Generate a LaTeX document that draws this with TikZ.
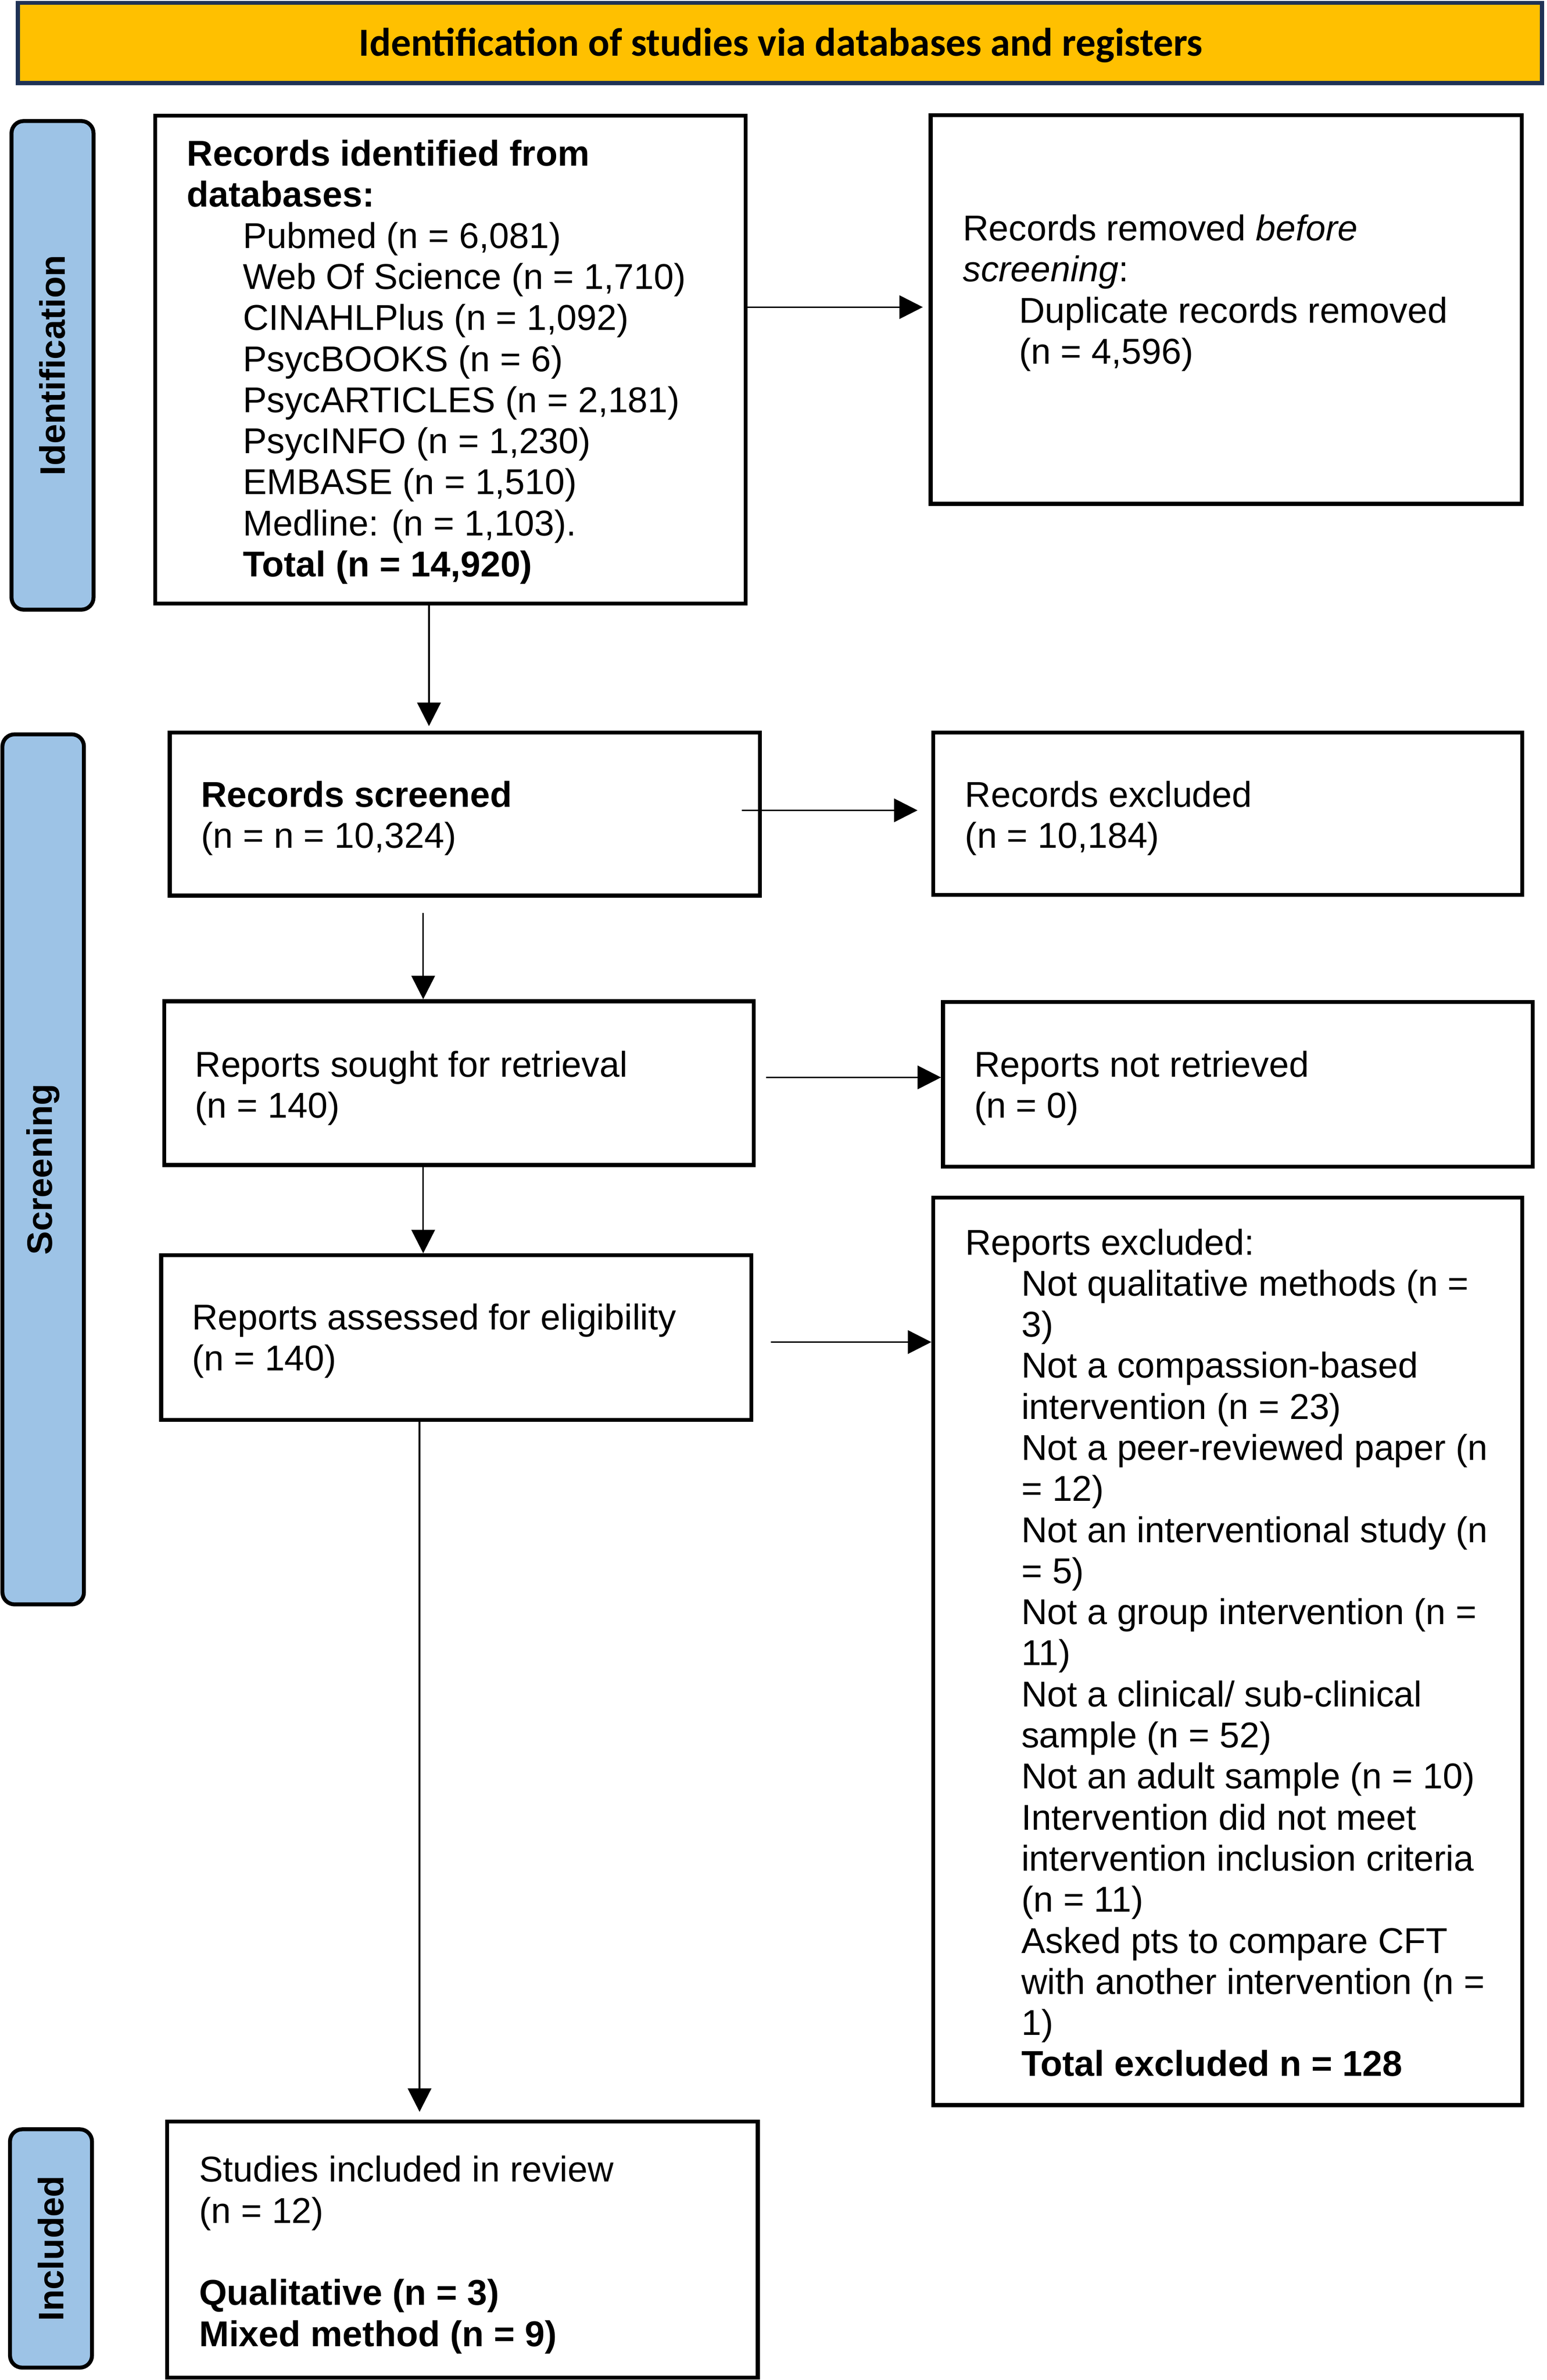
\documentclass[tikz,border=0pt]{standalone}
\usepackage{fontspec}
\setmainfont{Liberation Sans}
\newfontfamily\hdrfont{Carlito}
\usetikzlibrary{arrows.meta,calc}
\definecolor{hdryellow}{RGB}{255,192,0}
\definecolor{hdrnavy}{RGB}{31,50,85}
\definecolor{sideblue}{RGB}{157,195,230}
\newcommand{\tind}{\hspace*{26.25pt}}
\begin{document}
\begin{tikzpicture}[x=0.025cm,y=-0.025cm,
  box/.style={draw=black,line width=1.85pt,rectangle,inner sep=0pt,outer sep=0pt},
  side/.style={box,fill=sideblue,rounded corners=0.2cm},
  sidetext/.style={rotate=90,font=\fontsize{16.6}{19.25}\selectfont\bfseries,inner sep=0pt},
  txt/.style={anchor=north west,align=left,inner sep=0pt,outer sep=0pt,font=\fontsize{16.8}{19.25}\selectfont},
  arr/.style={line width=0.75pt,-{Triangle[length=11pt,width=11pt]}}]
\useasboundingbox (0,0) rectangle (1019,1568.4);

% header
\node[draw=hdrnavy,fill=hdryellow,line width=1.92pt,inner sep=0pt,outer sep=0pt,
      minimum width=25.0925cm,minimum height=1.32cm] (hdr) at (513.8,28.25) {};
\node[anchor=base,inner sep=0pt,font=\hdrfont\fontsize{18.65}{22}\selectfont\bfseries] (ht)
  at ($(hdr.center)+(0.6,8.75)$) {Identification of studies via databases and registers};

% side labels
\node[side,minimum width=1.35cm,minimum height=8.0475cm] (l1) at (34.6,240.75) {};
\node[sidetext] (l1t) at (l1.center) {Identification};
\node[side,minimum width=1.3425cm,minimum height=14.33cm] (l2) at (28.45,770.6) {};
\node[sidetext] (l2t) at (l2.center) {Screening};
\node[side,minimum width=1.35cm,minimum height=3.925cm] (l3) at (33.6,1481.7) {};
\node[sidetext] (l3t) at (l3.center) {Included};

% boxes
\node[box,minimum width=9.72cm,minimum height=8.035cm] (b1) at (296.7,237) {};
\node[box,minimum width=9.7325cm,minimum height=6.4cm] (b2) at (807.75,204) {};
\node[box,minimum width=9.7175cm,minimum height=2.6875cm] (b3) at (306.25,536.45) {};
\node[box,minimum width=9.6975cm,minimum height=2.6725cm] (b4) at (808.75,536.25) {};
\node[box,minimum width=9.7075cm,minimum height=2.6975cm] (b5) at (302.35,713.75) {};
\node[box,minimum width=9.71cm,minimum height=2.71cm] (b6) at (815.5,714.5) {};
\node[box,minimum width=9.7175cm,minimum height=2.7125cm] (b7) at (300.55,881.45) {};
\node[box,minimum width=9.695cm,minimum height=14.9475cm] (b8) at (808.8,1088.25) {};
\node[box,minimum width=9.725cm,minimum height=4.2175cm] (b9) at (304.7,1482.35) {};

% texts
\node[txt] (t1) at (123.2,90.4) {\strut\textbf{Records identified from}\\
\textbf{databases:}\\
\tind Pubmed (n = 6,081)\\
\tind Web Of Science (n = 1,710)\\
\tind CINAHLPlus (n = 1,092)\\
\tind PsycBOOKS (n = 6)\\
\tind PsycARTICLES (n = 2,181)\\
\tind PsycINFO (n = 1,230)\\
\tind EMBASE (n = 1,510)\\
\tind Medline: (n = 1,103).\\
\tind \textbf{Total (n = 14,920)}};

\node[txt] (t2) at (634.4,139.6) {\strut Records removed \textit{before}\\
\textit{screening}:\\
\tind Duplicate records removed\\
\tind (n = 4,596)};

\node[txt] (t3) at (132.5,512.9) {\strut\textbf{Records screened}\\(n = n = 10,324)};
\node[txt] (t4) at (635.8,512.9) {\strut Records excluded\\(n = 10,184)};
\node[txt] (t5) at (128.5,690.6) {\strut Reports sought for retrieval\\(n = 140)};
\node[txt] (t6) at (641.8,690.6) {\strut Reports not retrieved\\(n = 0)};
\node[txt] (t7) at (126.5,857.3) {\strut Reports assessed for eligibility\\(n = 140)};

\node[txt] (t8) at (636,807.9) {\strut Reports excluded:\\
\tind Not qualitative methods (n =\\
\tind 3)\\
\tind Not a compassion-based\\
\tind intervention (n = 23)\\
\tind Not a peer-reviewed paper (n\\
\tind = 12)\\
\tind Not an interventional study (n\\
\tind = 5)\\
\tind Not a group intervention (n =\\
\tind 11)\\
\tind Not a clinical/ sub-clinical\\
\tind sample (n = 52)\\
\tind Not an adult sample (n = 10)\\
\tind Intervention did not meet\\
\tind intervention inclusion criteria\\
\tind (n = 11)\\
\tind Asked pts to compare CFT\\
\tind with another intervention (n =\\
\tind 1)\\
\tind \textbf{Total excluded n = 128}};

\node[txt] (t9) at (131.2,1418.9) {\strut Studies included in review\\
(n = 12)\\[19.25pt]
\textbf{Qualitative (n = 3)}\\
\textbf{Mixed method (n = 9)}};

% connector guides
\coordinate (a1) at (0,202.4);
\coordinate (r2) at (0,534);
\coordinate (r3) at (0,710);
\coordinate (r4) at (0,884.4);
\coordinate (c1) at (282.6,0);
\coordinate (c2) at (278.8,0);
\coordinate (c3) at (276.4,0);

% arrows
\draw[arr] (b1.east |- a1) -- ($(b2.west |- a1)+(-5.1,0)$);
\draw[arr] (b1.south -| c1) -- ($(b3.north -| c1)+(0,-4.2)$);
\draw[arr] ($(b3.east |- r2)+(-12,0)$) -- ($(b4.west |- r2)+(-10.3,0)$);
\draw[arr] ($(b3.south -| c2)+(0,11.4)$) -- ($(b5.north -| c2)+(0,-1.3)$);
\draw[arr] ($(b5.east |- r3)+(8,0)$) -- ($(b6.west |- r3)+(-1.3,0)$);
\draw[arr] (b5.south -| c2) -- ($(b7.north -| c2)+(0,-1.3)$);
\draw[arr] ($(b7.east |- r4)+(13,0)$) -- ($(b8.west |- r4)+(-1.3,0)$);
\draw[arr] (b7.south -| c3) -- ($(b9.north -| c3)+(0,-6.3)$);
\end{tikzpicture}
\end{document}
